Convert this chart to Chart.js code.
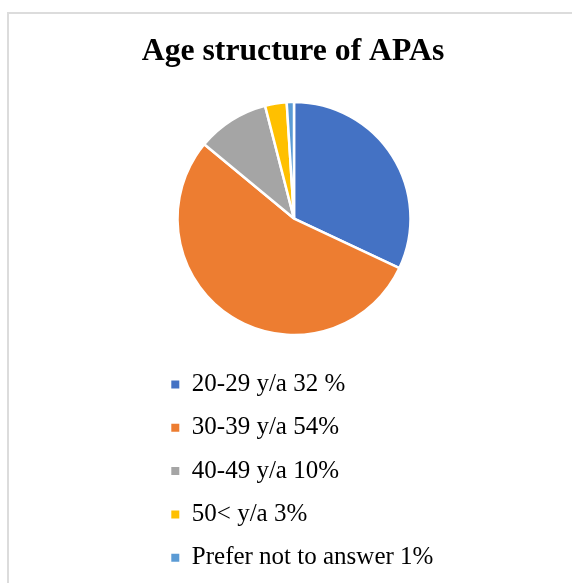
<!DOCTYPE html>
<html>
<head>
<meta charset="utf-8">
<script src="https://cdn.jsdelivr.net/npm/chart.js@4"></script>
<style>
  body { margin: 0; overflow: hidden; background: #fff; }
  .frame { position: absolute; left: 7px; top: 12px; width: 620px; height: 620px; border: 2px solid #dcdcdc; }
  #age-chart { position: absolute; left: 0; top: 0; }
</style>
</head>
<body>
<div class="frame"></div>
<canvas id="age-chart" width="572" height="583"></canvas>
<script>
const categories = ['20-29 y/a 32 %', '30-39 y/a 54%', '40-49 y/a 10%', '50< y/a 3%', 'Prefer not to answer 1%'];
const shares = [32, 54, 10, 3, 1];
const sliceColors = ['#4472C4', '#ED7D31', '#A5A5A5', '#FFC000', '#5B9BD5'];

const ageChart = document.getElementById('age-chart');
const serif = '"Liberation Serif", "Times New Roman", serif';

// invisible side axes: they only narrow the chart area so the legend
// starts under the pie while the title keeps its full width
function gapAxis(position, width) {
    return {
        type: 'linear',
        position: position,
        display: true,
        grid: { display: false, drawTicks: false },
        border: { display: false },
        ticks: { display: false },
        afterFit: (scale) => { scale.width = width; }
    };
}

new Chart(ageChart, {
    type: 'pie',
    data: {
        labels: categories,
        datasets: [{
            data: shares,
            backgroundColor: sliceColors,
            borderColor: '#ffffff',
            borderWidth: 2.5,
            radius: 116.5
        }]
    },
    options: {
        responsive: false,
        animation: false,
        layout: {
            padding: { top: 0, left: 140, right: 126, bottom: 2.8 }
        },
        scales: {
            leftGap: gapAxis('left', 13),
            rightGap: gapAxis('right', 11)
        },
        plugins: {
            title: {
                display: true,
                text: 'Age structure of APAs',
                color: '#000',
                font: { family: serif, size: 31.7, weight: 'bold', lineHeight: 1.2 },
                padding: { top: 33, bottom: 12.3 }
            },
            legend: {
                position: 'bottom',
                align: 'start',
                fullSize: false,
                labels: {
                    color: '#000',
                    font: { family: serif, size: 25 },
                    boxWidth: 8,
                    boxHeight: 8,
                    padding: 18.3,
                    generateLabels: (chart) =>
                        Chart.overrides.pie.plugins.legend.labels.generateLabels(chart)
                            .map(item => ({ ...item, lineWidth: 0 }))
                }
            },
            tooltip: { enabled: false }
        }
    }
});
</script>
</body>
</html>
